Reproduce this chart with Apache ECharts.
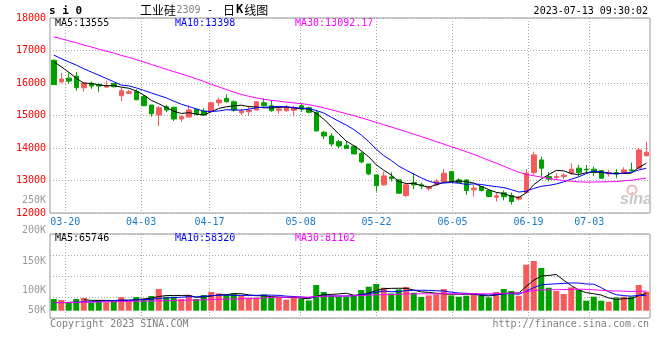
<!DOCTYPE html>
<html><head><meta charset="utf-8">
<script src="https://cdn.jsdelivr.net/npm/echarts@6/dist/echarts.min.js"></script>
<style>html,body{margin:0;padding:0;background:#fff}#c{width:660px;height:360px}</style>
</head><body><div id="c"></div>
<script>
// ---- categories ----
const dates = ['03-16','03-17','03-20','03-21','03-22','03-23','03-24','03-27','03-28','03-29','03-30','03-31',
'04-03','04-04','04-06','04-07','04-10','04-11','04-12','04-13','04-14','04-17','04-18','04-19','04-20','04-21','04-24','04-25','04-26','04-27','04-28',
'05-04','05-05','05-08','05-09','05-10','05-11','05-12','05-15','05-16','05-17','05-18','05-19','05-22','05-23','05-24','05-25','05-26','05-29','05-30','05-31',
'06-01','06-02','06-05','06-06','06-07','06-08','06-09','06-12','06-13','06-14','06-15','06-16','06-19','06-20','06-21','06-26','06-27','06-28','06-29','06-30',
'07-03','07-04','07-05','07-06','07-07','07-10','07-11','07-12','07-13'];
const labelDates = ['03-20','04-03','04-17','05-08','05-22','06-05','06-19','07-03'];

// ---- price series ----
const opens = [16700,16037,16150,16212,15853,15988,15957,15874,15988,15607,
15681,15742,15577,15322,15015,15270,15251,14892,14953,15190,
15138,15116,15392,15527,15423,15085,15116,15168,15392,15300,
15159,15147,15159,15300,15239,15098,14484,14370,14195,14084,
14054,13839,13510,13173,12866,13111,13019,12537,12936,12866,
12752,12866,12967,13274,13019,13019,12712,12814,12691,12488,
12620,12537,12427,12629,13243,13633,13121,13090,13121,13225,
13378,13348,13348,13305,13203,13243,13225,13326,13378,13765];
const closes = [15950,16120,16058,15853,15997,15905,15905,15914,15884,15761,
15730,15484,15300,15055,15239,15168,14892,14963,15168,15036,
15015,15392,15475,15423,15168,15138,15159,15423,15300,15147,
15199,15251,15251,15199,15098,14524,14370,14125,14063,13986,
13817,13572,13203,12844,13142,13059,12611,12866,12866,12835,
12795,12979,13225,12998,12936,12691,12764,12691,12507,12528,
12500,12353,12488,13225,13787,13378,13041,13121,13164,13348,
13243,13326,13243,13071,13243,13203,13326,13296,13940,13870];
const lows = [15940,15988,15988,15761,15730,15822,15730,15865,15865,15445,
15659,15475,15300,14963,14677,15098,14831,14809,14953,15006,
14993,15098,15291,15405,15116,15015,14984,15168,15270,15116,
15055,15116,14975,15116,15067,14524,14278,14042,13992,13971,
13817,13532,13164,12660,12844,12967,12589,12488,12734,12734,
12682,12844,12918,12967,12918,12559,12507,12660,12488,12353,
12390,12261,12384,12611,13173,13121,12967,13019,13050,13173,
13121,13203,13142,13041,13121,13071,13203,13274,13348,13735];
const highs = [16720,16313,16313,16335,16028,16049,15988,16068,15988,15853,
15791,15804,15629,15322,15291,15322,15270,15015,15312,15190,
15220,15423,15546,15650,15466,15199,15300,15423,15527,15475,
15270,15322,15300,15374,15270,15168,14524,14453,14247,14217,
14078,13888,13510,13173,13274,13256,13041,12918,13225,12936,
12835,13041,13357,13274,13071,13041,12866,12814,12691,12629,
12690,12629,12528,13348,13888,13735,13256,13225,13225,13532,
13480,13480,13428,13326,13326,13348,13409,13550,13992,14195];

// moving-average values before enough in-window data exists
const ma5Head = [16660,16500,16330,16150];
const ma10Head = [16860,16750,16650,16550,16440,16340,16240,16140,16040];
const ma30Head = [17420,17360,17300,17240,17170,17110,17040,16980,16920,16850,16790,16720,16650,16570,16500,16420,16350,16280,16210,16130,16050,15960,15880,15800,15720,15650,15590,15540,15500];

// ---- volume ----
const volumes = [46800,42800,33200,46800,50800,33200,42800,33200,42800,54800,
36000,54800,46800,58800,86800,56000,56000,46800,62800,46800,
62800,74800,69200,65200,69200,61200,52000,52000,65200,52000,
52000,44000,54800,46800,41200,102800,74800,60000,56000,56000,
62800,82800,96000,106800,92000,69200,85200,94800,72000,54800,
61200,65200,86800,61200,56000,60000,66800,60000,53200,74800,
86800,78800,60000,184000,198800,170800,92000,78800,66800,93200,
82800,40000,56000,40000,36000,53200,56000,56000,102800,76000];
const volMa10Head = [32000,32400,33500,34100,35300,35800,37400,38300,40200];
const volMa30Head = [32000,32500,32800,33400,33900,34300,34900,35400,35800,36500,37000,37600,38200,38800,39600,40300,40900,41500,42200,42800,43600,44400,45200,46000,46800,47600,48500,49400,50300];

// ---- texts ----
const symbolText = 's i 0';
const titleName = '工业硅';
const titleCode = '2309';
const titleKind = ['日','K','线图'];
const stampText = '2023-07-13 09:30:02';
const maLegend = ['MA5:13555','MA10:13398','MA30:13092.17'];
const volLegend = ['MA5:65746','MA10:58320','MA30:81102'];
const volAxisLabels = ['200K','150K','100K','50K'];
const strayLabel = '250K';
const footerLeft = 'Copyright 2023 SINA.COM';
const footerRight = 'http://finance.sina.com.cn';

function movingAvg(src, n, head) {
  return src.map((v, i) => {
    if (i < n - 1) return head && head[i] != null ? head[i] : null;
    let s = 0;
    for (let k = i - n + 1; k <= i; k++) s += src[k];
    return +(s / n).toFixed(2);
  });
}

const UP = '#f65a5a', DOWN = '#00a000';
const MONO = '"DejaVu Sans Mono","Liberation Mono",monospace';
const CJK = '"Noto Sans CJK SC",sans-serif';
const maColors = ['#000000', '#0000ff', '#ff00ff'];
const showLabel = (idx, val) => labelDates.indexOf(val) >= 0;
const dotted = { color: '#a8a8a8', type: [1, 2], width: 1 };

const kData = opens.map((o, i) => [o, closes[i], lows[i], highs[i]]);
const volData = volumes.map((v, i) => ({ value: v, itemStyle: { color: closes[i] >= opens[i] ? UP : DOWN } }));

const priceMA = [movingAvg(closes, 5, ma5Head), movingAvg(closes, 10, ma10Head), movingAvg(closes, 30, ma30Head)];
const volMA = [movingAvg(volumes, 5, null), movingAvg(volumes, 10, volMa10Head), movingAvg(volumes, 30, volMa30Head)];

function txt(x, y, text, fill, font, align) {
  const a = align || 'left';
  return { type: 'text', x: x, y: y, silent: true,
    style: { text: text, fill: fill, font: font, textAlign: a, align: a, textVerticalAlign: 'middle', verticalAlign: 'middle' } };
}

const graphics = [
  txt(49, 11, symbolText, '#000', 'bold 11px ' + MONO),
  txt(140, 10, titleName, '#000', '12px ' + CJK),
  txt(176.5, 10.5, titleCode, '#808080', '10px ' + MONO),
  txt(207, 10, '-', '#000', '10px ' + MONO),
  { type: 'text', x: 223, y: 10, silent: true, style: {
      text: '{c|' + titleKind[0] + '}{k|' + titleKind[1] + '}{c|' + titleKind[2] + '}',
      textAlign: 'left', align: 'left', textVerticalAlign: 'middle', verticalAlign: 'middle',
      rich: { c: { fill: '#000', font: '12px ' + CJK }, k: { fill: '#000', font: 'bold 12px ' + MONO, padding: [0, 1, 0, 1] } } } },
  txt(648, 11.7, stampText, '#000', '10px ' + MONO, 'right'),
  txt(55, 23.5, maLegend[0], maColors[0], '10px ' + MONO),
  txt(175, 23.5, maLegend[1], maColors[1], '10px ' + MONO),
  txt(295, 23.5, maLegend[2], maColors[2], '10px ' + MONO),
  txt(55, 238.5, volLegend[0], maColors[0], '10px ' + MONO),
  txt(175, 238.5, volLegend[1], maColors[1], '10px ' + MONO),
  txt(295, 238.5, volLegend[2], maColors[2], '10px ' + MONO),
  txt(46, 200.3, strayLabel, '#9a9a9a', '10px ' + MONO, 'right'),
  txt(46, 230.7, volAxisLabels[0], '#9a9a9a', '10px ' + MONO, 'right'),
  txt(46, 261, volAxisLabels[1], '#9a9a9a', '10px ' + MONO, 'right'),
  txt(46, 290, volAxisLabels[2], '#9a9a9a', '10px ' + MONO, 'right'),
  txt(46, 310, volAxisLabels[3], '#9a9a9a', '10px ' + MONO, 'right'),
  txt(50, 324, footerLeft, '#808080', '10px ' + MONO),
  txt(649, 324, footerRight, '#808080', '10px ' + MONO, 'right'),
  { type: 'circle', silent: true, shape: { cx: 632, cy: 190, r: 4.5 }, style: { fill: 'none', stroke: '#f3b9b9', lineWidth: 2 } },
  txt(636, 200, 'sina', '#c8c8c8', 'italic bold 16px "Liberation Sans",Arial,sans-serif', 'center')
];

const chart = echarts.init(document.getElementById('c'), null, { renderer: 'canvas' });
chart.setOption({
  animation: false,
  backgroundColor: '#ffffff',
  grid: [
    { left: 50, top: 18, width: 600, height: 195, show: true, borderColor: '#999', borderWidth: 1, backgroundColor: 'transparent' },
    { left: 50, top: 234, width: 600, height: 84, show: true, borderColor: '#999', borderWidth: 1, backgroundColor: 'transparent' }
  ],
  xAxis: [
    { type: 'category', gridIndex: 0, data: dates, boundaryGap: true, show: false, position: 'top' },
    { type: 'category', gridIndex: 0, data: dates, boundaryGap: false, position: 'bottom',
      axisLine: { show: false }, axisTick: { show: false },
      axisLabel: { interval: showLabel, color: '#1a7ac8', fontFamily: MONO, fontSize: 10, margin: 4 },
      splitLine: { show: true, interval: showLabel, lineStyle: dotted } },
    { type: 'category', gridIndex: 1, data: dates, boundaryGap: true, show: false, position: 'top' },
    { type: 'category', gridIndex: 1, data: dates, boundaryGap: false, position: 'bottom',
      axisLine: { show: false }, axisTick: { show: false }, axisLabel: { show: false },
      splitLine: { show: true, interval: showLabel, lineStyle: dotted } }
  ],
  yAxis: [
    { type: 'value', gridIndex: 0, min: 12000, max: 18000, interval: 1000,
      axisLine: { show: false }, axisTick: { show: false },
      axisLabel: { color: '#ff0000', fontFamily: MONO, fontSize: 10, margin: 4, formatter: v => String(v) },
      splitLine: { show: true, lineStyle: dotted } },
    { type: 'value', gridIndex: 1, min: -29200, max: 306800, show: false, splitLine: { show: false }, position: 'right' },
    { type: 'value', gridIndex: 1, min: 0, max: 4, interval: 1, position: 'left',
      axisLine: { show: false }, axisTick: { show: false }, axisLabel: { show: false },
      splitLine: { show: true, lineStyle: dotted } }
  ],
  graphic: { elements: graphics },
  series: [
    { type: 'candlestick', xAxisIndex: 0, yAxisIndex: 0, data: kData, barWidth: 5,
      itemStyle: { color: UP, color0: DOWN, borderColor: UP, borderColor0: DOWN, borderWidth: 1 } },
    { type: 'line', xAxisIndex: 0, yAxisIndex: 0, data: priceMA[0], showSymbol: false, symbol: 'none', lineStyle: { color: maColors[0], width: 1 }, z: 3 },
    { type: 'line', xAxisIndex: 0, yAxisIndex: 0, data: priceMA[1], showSymbol: false, symbol: 'none', lineStyle: { color: maColors[1], width: 1 }, z: 3 },
    { type: 'line', xAxisIndex: 0, yAxisIndex: 0, data: priceMA[2], showSymbol: false, symbol: 'none', lineStyle: { color: maColors[2], width: 1 }, z: 3 },
    { type: 'bar', xAxisIndex: 2, yAxisIndex: 1, data: volData, barWidth: 6 },
    { type: 'line', xAxisIndex: 2, yAxisIndex: 1, data: volMA[0], showSymbol: false, symbol: 'none', lineStyle: { color: maColors[0], width: 1 }, z: 3 },
    { type: 'line', xAxisIndex: 2, yAxisIndex: 1, data: volMA[1], showSymbol: false, symbol: 'none', lineStyle: { color: maColors[1], width: 1 }, z: 3 },
    { type: 'line', xAxisIndex: 2, yAxisIndex: 1, data: volMA[2], showSymbol: false, symbol: 'none', lineStyle: { color: maColors[2], width: 1 }, z: 3 }
  ]
});
</script>
</body></html>
